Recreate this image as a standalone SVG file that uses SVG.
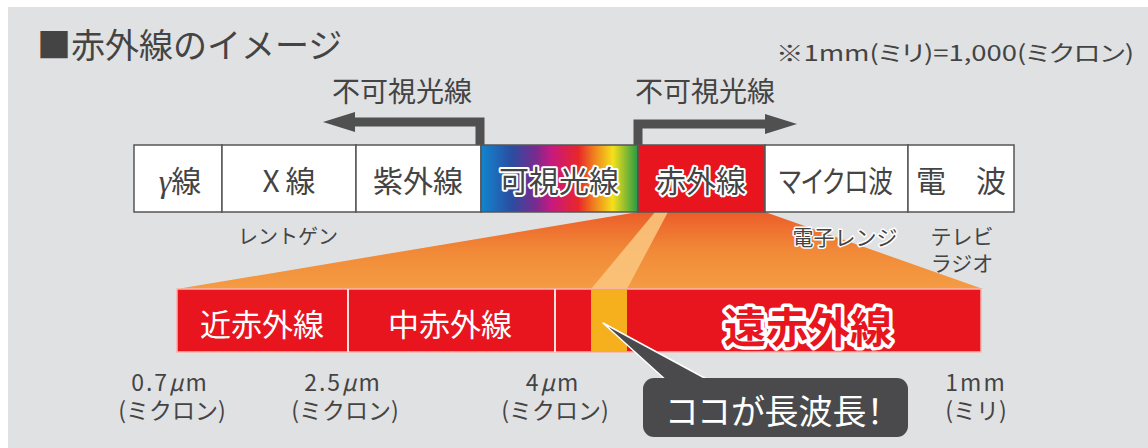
<svg xmlns="http://www.w3.org/2000/svg" width="1148" height="448" viewBox="0 0 1148 448">
<style>
.t{font-family:"Noto Sans CJK JP","Noto Sans",sans-serif;fill:#444;}
.k{font-feature-settings:"palt";}
.cell{fill:#fff;stroke:#555;stroke-width:1.5;}
.lbl{font-size:30px;text-anchor:middle;}
.halo{stroke:#fff;stroke-width:4px;stroke-linejoin:round;paint-order:stroke;}
.small{font-size:20px;text-anchor:middle;}
.unit{font-size:23px;text-anchor:middle;}
.bar{font-size:31px;fill:#fff;text-anchor:middle;}
</style>
<defs>
<linearGradient id="rainbow" x1="0" x2="1" y1="0" y2="0">
<stop offset="0" stop-color="#1185cf"/>
<stop offset="0.2" stop-color="#2c4c9f"/>
<stop offset="0.35" stop-color="#7a2a8f"/>
<stop offset="0.45" stop-color="#c8197f"/>
<stop offset="0.62" stop-color="#e8262a"/>
<stop offset="0.72" stop-color="#f0801e"/>
<stop offset="0.84" stop-color="#f5e01b"/>
<stop offset="1" stop-color="#239a45"/>
</linearGradient>
<linearGradient id="fan" x1="0" x2="0" y1="213" y2="289" gradientUnits="userSpaceOnUse">
<stop offset="0" stop-color="#ec5e2a"/>
<stop offset="0.5" stop-color="#f18a38"/>
<stop offset="1" stop-color="#f49c44"/>
</linearGradient>
</defs>
<rect x="0" y="0" width="1148" height="448" fill="#fff"/>
<rect x="8" y="7" width="1140" height="441" fill="#e0e1e3"/>
<text class="t" x="37" y="58" font-size="34">■赤外線のイメージ</text>
<text class="t k" x="776" y="61" font-size="22" textLength="358" lengthAdjust="spacingAndGlyphs">※1mm(ミリ)=1,000(ミクロン)</text>
<text class="t" x="402" y="102" font-size="28" text-anchor="middle">不可視光線</text>
<text class="t" x="705" y="102" font-size="28" text-anchor="middle">不可視光線</text>
<g id="connectors">
<path d="M480,145 V122 H350" fill="none" stroke="#505050" stroke-width="9"/>
<polygon points="323,122 355,112 355,132" fill="#505050"/>
<path d="M638,145 V124 H770" fill="none" stroke="#505050" stroke-width="9"/>
<polygon points="797,124 765,114 765,134" fill="#505050"/>
</g>
<g id="fan">
<polygon points="638,212 765,212 983,289 177,289" fill="url(#fan)"/>
<polygon points="655,212 668,212 627,289 591,289" fill="#f9c47c" opacity="0.9"/>
</g>
<g id="spectrum">
<g id="gamma"><rect class="cell" x="134" y="145" width="88" height="67"/><text class="t lbl" x="180" y="192"><tspan font-family="Liberation Serif" font-style="italic" font-size="32">γ</tspan>線</text></g>
<g id="xray"><rect class="cell" x="222" y="145" width="134" height="67"/><text class="t lbl" x="289" y="192">X<tspan dx="6">線</tspan></text></g>
<g id="uv"><rect class="cell" x="356" y="145" width="125" height="67"/><text class="t lbl" x="418" y="192">紫外線</text></g>
<g id="visible"><rect x="481" y="145" width="157" height="67" fill="url(#rainbow)" stroke="#555" stroke-width="1.5"/><text class="t lbl halo" x="559" y="192" font-size="32">可視光線</text></g>
<g id="ir"><rect x="638" y="145" width="127" height="67" fill="#e8151f" stroke="#555" stroke-width="1.5"/><text class="t lbl halo" x="701" y="192" font-size="32">赤外線</text></g>
<g id="microwave"><rect class="cell" x="765" y="145" width="143" height="67"/><text class="t lbl k" x="836" y="192" textLength="114" lengthAdjust="spacingAndGlyphs">マイクロ波</text></g>
<g id="radio"><rect class="cell" x="908" y="145" width="106" height="67"/><text class="t lbl" x="961" y="192">電　波</text></g>
</g>
<g id="uses">
<text class="t small" x="288" y="244">レントゲン</text>
<text class="t small halo" x="845" y="245" style="stroke-width:3px;font-size:21px">電子レンジ</text>
<text class="t small" x="962" y="244" style="font-size:21px">テレビ</text>
<text class="t small" x="962" y="271" style="font-size:21px">ラジオ</text>
</g>
<g id="irbar">
<rect x="177" y="289" width="804" height="63" fill="#e8151f" stroke="#f8b4b0" stroke-width="1.5"/>
<rect x="591" y="289" width="36" height="63" fill="#f6b01e"/>
<line x1="348" y1="289" x2="348" y2="352" stroke="#fbe0dc" stroke-width="2"/>
<line x1="555" y1="289" x2="555" y2="352" stroke="#fbe0dc" stroke-width="2"/>
<g id="near"><text class="t bar" x="262" y="336">近赤外線</text></g>
<g id="mid"><text class="t bar" x="450" y="336">中赤外線</text></g>
<g id="far"><text class="t halo" x="808" y="343" font-size="42" font-weight="700" text-anchor="middle" style="fill:#e8151f;stroke-width:7px">遠赤外線</text></g>
</g>
<g id="ticks">
<text class="t unit" x="170" y="391" letter-spacing="2">0.7<tspan font-style="italic">μ</tspan>m</text>
<text class="t unit" x="172" y="419">(ミクロン)</text>
<text class="t unit" x="343" y="391" letter-spacing="2">2.5<tspan font-style="italic">μ</tspan>m</text>
<text class="t unit" x="345" y="419">(ミクロン)</text>
<text class="t unit" x="553" y="391" letter-spacing="2">4<tspan font-style="italic">μ</tspan>m</text>
<text class="t unit" x="555" y="419">(ミクロン)</text>
<text class="t unit" x="976" y="391" letter-spacing="2">1mm</text>
<text class="t unit" x="976" y="419">(ミリ)</text>
</g>
<g id="callout">
<polygon points="603,323 668,382 712,382" fill="#4a4a4c" stroke="#fff" stroke-width="1.5" stroke-linejoin="round"/>
<rect x="643" y="378" width="265" height="59" rx="11" fill="#4a4a4c"/>
<text class="t k" x="775" y="424" font-size="34" text-anchor="middle" style="fill:#fff">ココが長波長！</text>
</g>
</svg>
